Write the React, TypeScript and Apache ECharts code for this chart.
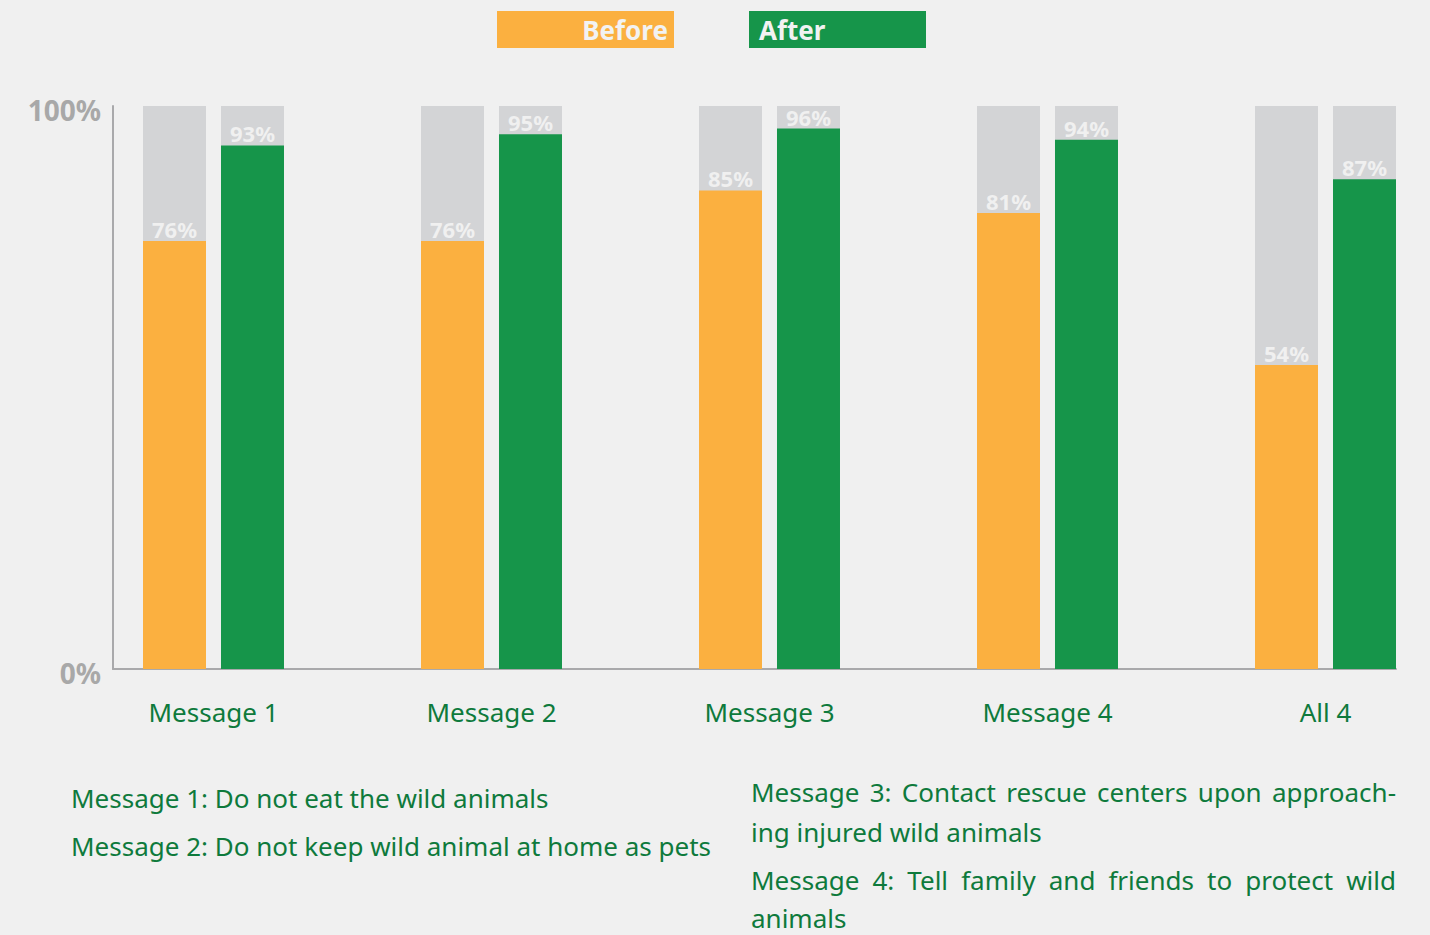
import React, { useEffect, useRef } from "react";
import * as echarts from "echarts";

const categories = ["Message 1", "Message 2", "Message 3", "Message 4", "All 4"];
const beforeValues = [76, 76, 85, 81, 54];
const afterValues = [93, 95, 96, 94, 87];
const yTicks = [0, 100];

const leftNotes = [
  "Message 1: Do not eat the wild animals",
  "Message 2: Do not keep wild animal at home as pets",
];
const rightNotes = [
  { text: "Message 3: Contact rescue centers upon approach-", justify: true },
  { text: "ing injured wild animals", justify: false },
  { text: "Message 4: Tell family and friends to protect wild", justify: true },
  { text: "animals", justify: false },
];

const ORANGE = "#FBB040";
const GREEN = "#16954A";
const TEXT_GREEN = "#0E7A3C";
const BG_GRAY = "#D3D4D6";
const AXIS_GRAY = "#A9A9AB";
const FONT = "'Noto Sans', Lato, sans-serif";

function measure(text: string, font: string): number {
  const c = document.createElement("canvas");
  const ctx = c.getContext("2d");
  if (!ctx) return text.length * 12;
  ctx.font = font;
  return ctx.measureText(text).width;
}

function justifiedLine(text: string, x: number, y: number, width: number, fontSize: number, justify: boolean) {
  const style = { fill: TEXT_GREEN, font: `${fontSize}px ${FONT}`, textVerticalAlign: "middle" as const };
  if (!justify) {
    return [{ type: "text", x, y, style: { ...style, text } }];
  }
  const words = text.split(" ");
  const widths = words.map((w) => measure(w, `${fontSize}px 'Noto Sans'`));
  const total = widths.reduce((a, b) => a + b, 0);
  const gap = (width - total) / (words.length - 1);
  let cx = x;
  return words.map((w, i) => {
    const el = { type: "text", x: cx, y, style: { ...style, text: w } };
    cx += widths[i] + gap;
    return el;
  });
}

export default function App() {
  const ref = useRef<HTMLDivElement>(null);

  useEffect(() => {
    if (!ref.current) return;
    const chart = echarts.init(ref.current, undefined, { renderer: "svg" });

    const graphics: any[] = [
      { type: "rect", shape: { x: 497, y: 11, width: 177, height: 37 }, style: { fill: ORANGE } },
      {
        type: "text",
        x: 668,
        y: 30,
        style: { text: "Before", fill: "#F2F2F2", font: `bold 26px ${FONT}`, textAlign: "right", textVerticalAlign: "middle" },
      },
      { type: "rect", shape: { x: 749, y: 11, width: 177, height: 37 }, style: { fill: GREEN } },
      {
        type: "text",
        x: 759,
        y: 30,
        style: { text: "After", fill: "#F2F2F2", font: `bold 26px ${FONT}`, textAlign: "left", textVerticalAlign: "middle" },
      },
    ];
    leftNotes.forEach((t, i) => {
      graphics.push({
        type: "text",
        x: 71,
        y: 798 + i * 48,
        style: { text: t, fill: TEXT_GREEN, font: `26px ${FONT}`, textVerticalAlign: "middle" },
      });
    });
    const rightY = [792, 832, 880, 918];
    rightNotes.forEach((n, i) => {
      graphics.push(...justifiedLine(n.text, 751, rightY[i], 645, 26, n.justify));
    });

    const labelCfg = {
      show: true,
      position: "top",
      distance: 1,
      color: "#F0F0F0",
      fontFamily: FONT,
      fontWeight: "bold",
      fontSize: 22,
      formatter: (p: any) => `${p.value[1]}%`,
    };

    chart.setOption({
      animation: false,
      backgroundColor: "#F0F0F0",
      grid: { left: 113, right: 34, top: 106, bottom: 266 },
      xAxis: {
        type: "value",
        min: -0.3615,
        max: 4.2536,
        splitLine: { show: false },
        axisTick: { show: false },
        axisLine: { show: true, onZero: false, lineStyle: { color: AXIS_GRAY, width: 2 } },
        axisLabel: {
          customValues: [0, 1, 2, 3, 4],
          formatter: (v: number) => categories[Math.round(v)] ?? "",
          color: TEXT_GREEN,
          fontFamily: FONT,
          fontSize: 26,
          margin: 30,
        },
      },
      yAxis: {
        type: "value",
        min: yTicks[0],
        max: yTicks[1],
        interval: 100,
        splitLine: { show: false },
        axisTick: { show: false },
        axisLine: { show: true, onZero: false, lineStyle: { color: AXIS_GRAY, width: 2 } },
        axisLabel: {
          formatter: "{value}%",
          color: "#A8A8A8",
          fontFamily: FONT,
          fontWeight: "bold",
          fontSize: 28,
          margin: 12,
          verticalAlign: "top",
          lineHeight: 8,
        },
      },
      series: [
        {
          name: "Before",
          type: "bar",
          barWidth: 63,
          barGap: "23.8%",
          data: beforeValues.map((v, i) => [i, v]),
          itemStyle: { color: ORANGE },
          showBackground: true,
          backgroundStyle: { color: BG_GRAY },
          label: labelCfg,
        },
        {
          name: "After",
          type: "bar",
          barWidth: 63,
          barGap: "23.8%",
          data: afterValues.map((v, i) => [i, v]),
          itemStyle: { color: GREEN },
          showBackground: true,
          backgroundStyle: { color: BG_GRAY },
          label: labelCfg,
        },
      ],
      graphic: graphics,
    });

    return () => chart.dispose();
  }, []);

  return (
    <div
      ref={ref}
      style={{ position: "fixed", left: 0, top: 0, width: 1430, height: 935, background: "#F0F0F0" }}
    />
  );
}
